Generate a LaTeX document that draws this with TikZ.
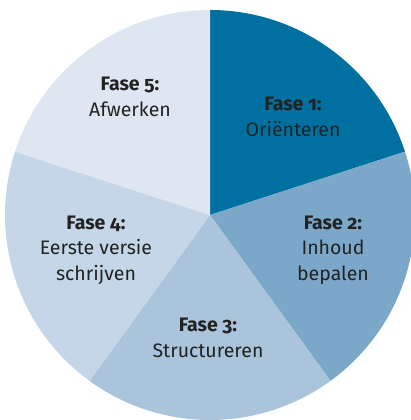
\documentclass[tikz,border=0pt]{standalone}
\usepackage{fontspec}
\setmainfont{Fira Sans}[Numbers=OldStyle]
\definecolor{cA}{HTML}{0070A0}
\definecolor{cB}{HTML}{7BA8C9}
\definecolor{cC}{HTML}{AAC4DC}
\definecolor{cD}{HTML}{C4D6E7}
\definecolor{cE}{HTML}{DEE7F1}
\definecolor{txt}{HTML}{222222}
\begin{document}
\begin{tikzpicture}[x=1pt,y=1pt,
  lbl/.style={align=center,text=txt,font=\fontsize{19.5}{25.5}\selectfont,inner sep=0pt}]
\useasboundingbox (0,0) rectangle (411,420);
\clip (0,0) rectangle (411,420);
\coordinate (c) at (210,205);
\fill[cA] (c) -- ++(90:205) arc[start angle=90,end angle=18,radius=205] -- cycle;
\fill[cB] (c) -- ++(18:205) arc[start angle=18,end angle=-54,radius=205] -- cycle;
\fill[cC] (c) -- ++(-54:205) arc[start angle=-54,end angle=-126,radius=205] -- cycle;
\fill[cD] (c) -- ++(-126:205) arc[start angle=-126,end angle=-198,radius=205] -- cycle;
\fill[cE] (c) -- ++(162:205) arc[start angle=162,end angle=90,radius=205] -- cycle;
\node[lbl] (f1) at (293,303) {\textbf{Fase 1:}\\Oriënteren};
\node[lbl] (f2) at (333,170) {\textbf{Fase 2:}\\Inhoud\\bepalen};
\node[lbl] (f3) at (208,82) {\textbf{Fase 3:}\\Structureren};
\node[lbl] (f4) at (96,170) {\textbf{Fase 4:}\\Eerste versie\\schrijven};
\node[lbl] (f5) at (130,323) {\textbf{Fase 5:}\\Afwerken};
\end{tikzpicture}
\end{document}
